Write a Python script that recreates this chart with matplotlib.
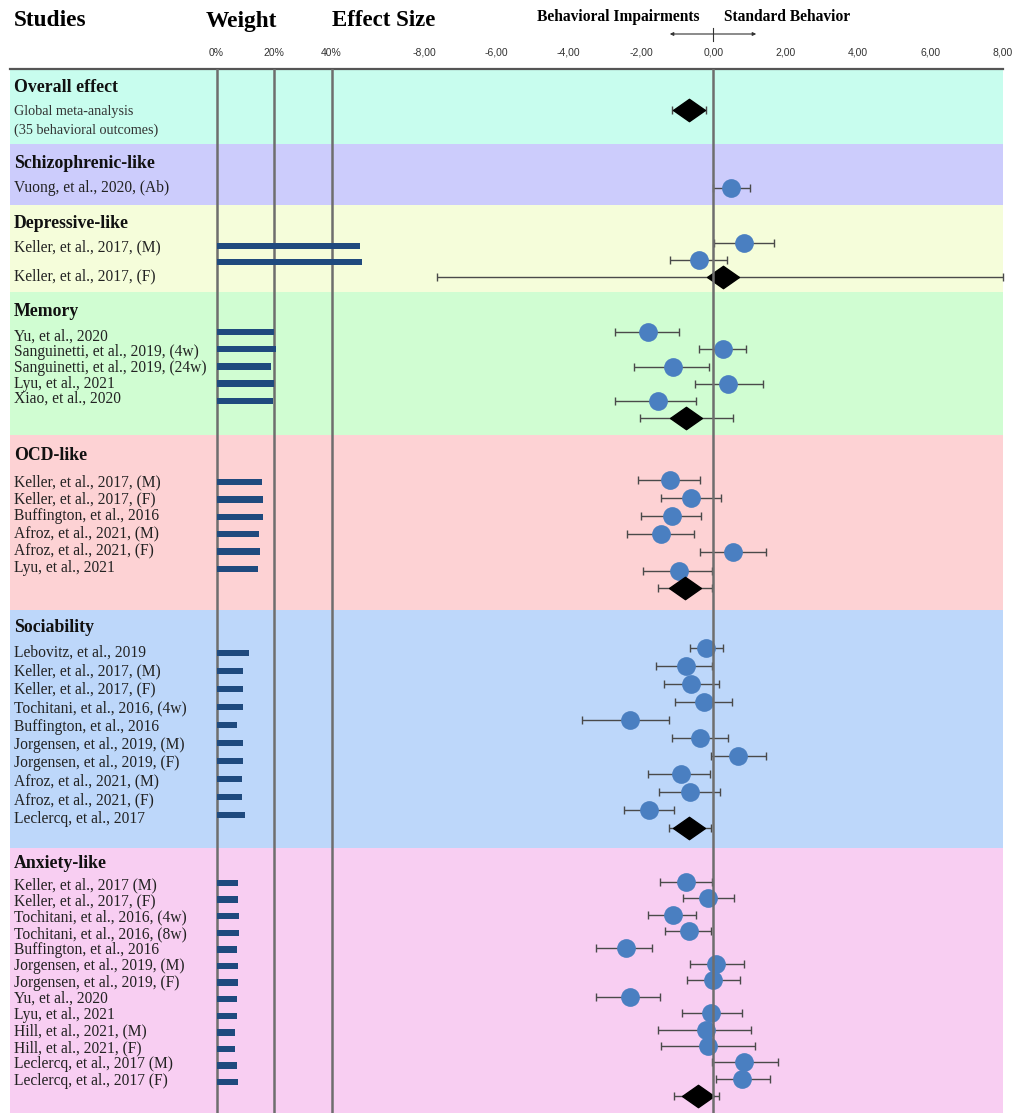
import numpy as np
import matplotlib
matplotlib.use("Agg")
import matplotlib.pyplot as plt
from matplotlib.path import Path
from matplotlib.patches import FancyArrowPatch
from matplotlib.lines import Line2D

# ---------------------------------------------------------------- data
sections = ["Overall effect", "Schizophrenic-like", "Depressive-like", "Memory",
            "OCD-like", "Sociability", "Anxiety-like"]

schizo_studies = ["Vuong, et al., 2020, (Ab)"]
schizo_weight = [np.nan]
schizo_es = [0.47]
schizo_lo = [0.00]
schizo_hi = [1.00]

depr_studies = ["Keller, et al., 2017, (M)", "Keller, et al., 2017, (F)"]
depr_weight = [50.0, 50.7]
depr_es = [0.83, -0.41]
depr_lo = [0.02, -1.19]
depr_hi = [1.66, 0.36]

mem_studies = ["Yu, et al., 2020", "Sanguinetti, et al., 2019, (4w)",
               "Sanguinetti, et al., 2019, (24w)", "Lyu, et al., 2021", "Xiao, et al., 2020"]
mem_weight = [20.0, 20.8, 19.0, 20.0, 19.5]
mem_es = [-1.80, 0.25, -1.13, 0.41, -1.54]
mem_lo = [-2.71, -0.41, -2.21, -0.50, -2.71]
mem_hi = [-0.96, 0.91, -0.13, 1.36, -0.47]

ocd_studies = ["Keller, et al., 2017, (M)", "Keller, et al., 2017, (F)",
               "Buffington, et al., 2016", "Afroz, et al., 2021, (M)",
               "Afroz, et al., 2021, (F)", "Lyu, et al., 2021"]
ocd_weight = [15.7, 16.3, 16.3, 14.7, 15.3, 14.5]
ocd_es = [-1.21, -0.61, -1.14, -1.45, 0.53, -0.94]
ocd_lo = [-2.10, -1.45, -2.00, -2.40, -0.36, -1.94]
ocd_hi = [-0.38, 0.22, -0.34, -0.55, 1.46, -0.03]

soc_studies = ["Lebovitz, et al., 2019", "Keller, et al., 2017, (M)",
               "Keller, et al., 2017, (F)", "Tochitani, et al., 2016, (4w)",
               "Buffington, et al., 2016", "Jorgensen, et al., 2019, (M)",
               "Jorgensen, et al., 2019, (F)", "Afroz, et al., 2021, (M)",
               "Afroz, et al., 2021, (F)", "Leclercq, et al., 2017"]
soc_weight = [11.2, 9.3, 9.3, 9.3, 7.0, 9.3, 9.3, 8.7, 8.7, 9.9]
soc_es = [-0.22, -0.77, -0.61, -0.26, -2.31, -0.36, 0.67, -0.91, -0.64, -1.77]
soc_lo = [-0.66, -1.60, -1.38, -1.06, -3.63, -1.14, -0.07, -1.81, -1.50, -2.46]
soc_hi = [0.25, -0.03, 0.14, 0.52, -1.22, 0.41, 1.46, -0.11, 0.19, -1.10]

anx_studies = ["Keller, et al., 2017 (M)", "Keller, et al., 2017, (F)",
               "Tochitani, et al., 2016, (4w)", "Tochitani, et al., 2016, (8w)",
               "Buffington, et al., 2016", "Jorgensen, et al., 2019, (M)",
               "Jorgensen, et al., 2019, (F)", "Yu, et al., 2020", "Lyu, et al., 2021",
               "Hill, et al., 2021, (M)", "Hill, et al., 2021, (F)",
               "Leclercq, et al., 2017 (M)", "Leclercq, et al., 2017 (F)"]
anx_weight = [7.5, 7.5, 7.9, 7.9, 7.3, 7.5, 7.5, 7.3, 7.3, 6.3, 6.3, 7.0, 7.5]
anx_es = [-0.75, -0.14, -1.11, -0.69, -2.43, 0.08, 0.00, -2.32, -0.06,
          -0.20, -0.14, 0.83, 0.80]
anx_lo = [-1.49, -0.83, -1.81, -1.35, -3.26, -0.64, -0.72, -3.24, -0.88,
          -1.53, -1.45, -0.03, 0.06]
anx_hi = [-0.03, 0.58, -0.47, -0.06, -1.69, 0.83, 0.72, -1.49, 0.79,
          1.05, 1.16, 1.77, 1.55]

# pooled estimates (effect, lower, upper); None where no pooled estimate
pooled_es = [-0.69, None, 0.25, -0.75, -0.80, -0.69, -0.44]
pooled_lo = [-1.16, None, -7.63, -2.02, -1.54, -1.24, -1.10]
pooled_hi = [-0.22, None, 8.00, 0.55, -0.03, -0.08, 0.14]

effect_ticks = [-8, -6, -4, -2, 0, 2, 4, 6, 8]
weight_ticks = [0, 20, 40]

# ---------------------------------------------------------------- layout
W, H = 1017, 1113
BAND_COLORS = ["#c8fdee", "#ccccfc", "#f5fdda", "#d0fdd2", "#fdd2d4", "#bdd7fa", "#f8cef2"]
# per section: band top/bottom, title y, (label y0, dy), (bar y0, dy), (point y0, dy), pooled y
LAYOUT = [
    dict(band=(69, 144), title=88, labels=None, bars=None, points=None, pooled=110),
    dict(band=(144, 205), title=164, labels=(188, 0), bars=(188, 0), points=(188, 0), pooled=None),
    dict(band=(205, 292), title=224, labels=(247, 29), bars=(246, 16), points=(243, 17), pooled=277),
    dict(band=(292, 435), title=311, labels=(337, 15.5), bars=(332, 17.2), points=(332, 17.3), pooled=418),
    dict(band=(435, 610), title=455, labels=(482, 17.2), bars=(482, 17.4), points=(480, 18.1), pooled=588),
    dict(band=(610, 848), title=627, labels=(653, 18.4), bars=(653, 18.0), points=(648, 18.0), pooled=828),
    dict(band=(848, 1113), title=863, labels=(885, 16.3), bars=(883, 16.6), points=(882, 16.4), pooled=1096),
]
groups = [None,
          (schizo_studies, schizo_weight, schizo_es, schizo_lo, schizo_hi),
          (depr_studies, depr_weight, depr_es, depr_lo, depr_hi),
          (mem_studies, mem_weight, mem_es, mem_lo, mem_hi),
          (ocd_studies, ocd_weight, ocd_es, ocd_lo, ocd_hi),
          (soc_studies, soc_weight, soc_es, soc_lo, soc_hi),
          (anx_studies, anx_weight, anx_es, anx_lo, anx_hi)]

SERIF = ["Liberation Serif", "DejaVu Serif"]
SANS = ["Liberation Sans", "DejaVu Sans"]
BAR_COLOR = "#1f4a7e"
DOT_COLOR = "#4a7fc1"
CI_COLOR = "#4a4a4a"
GRID_COLOR = "#6e6e6e"


def fx(px):
    return px / W


def fy(py):
    return 1 - py / H


fig = plt.figure(figsize=(W / 100, H / 100), dpi=100)

PANEL_L, PANEL_R, PANEL_T, PANEL_B = 10, 1003, 69, 1113
ax = fig.add_axes([fx(PANEL_L), fy(PANEL_B), (PANEL_R - PANEL_L) / W, (PANEL_B - PANEL_T) / H])
ax.set_ylim(PANEL_B, PANEL_T)

# effect-size scale: -8 .. 8 on the right part of the panel
E_ZERO, E_PX = 713.5, (1003 - 424) / 16.0
ax.set_xlim((PANEL_L - E_ZERO) / E_PX, (PANEL_R - E_ZERO) / E_PX)

# weight scale shares the rows
axw = ax.twiny()
W_ZERO, W_PX = 216.5, 2.875
axw.set_xlim((PANEL_L - W_ZERO) / W_PX, (PANEL_R - W_ZERO) / W_PX)
axw.set_ylim(PANEL_B, PANEL_T)

for a in (ax, axw):
    for s in a.spines.values():
        s.set_visible(False)
    a.set_yticks([])
ax.spines["top"].set_visible(True)
ax.spines["top"].set_color("#555555")
ax.spines["top"].set_linewidth(1.6)

ax.xaxis.tick_top()
ax.set_xticks(effect_ticks)
ax.set_xticklabels([f"{v:.2f}".replace(".", ",") for v in effect_ticks])
axw.set_xticks(weight_ticks)
axw.set_xticklabels([f"{v}%" for v in weight_ticks])
for a in (ax, axw):
    a.tick_params(axis="x", length=0, pad=8, labelsize=7.5, labelcolor="#333333")
    for lab in a.get_xticklabels():
        lab.set_family(SANS)

# bands
for lay, col in zip(LAYOUT, BAND_COLORS):
    ax.axhspan(lay["band"][0], lay["band"][1], color=col, lw=0, zorder=0)

# reference lines
for v in weight_ticks:
    axw.axvline(v, color=GRID_COLOR, lw=1.8, zorder=1)
ax.axvline(0, color=GRID_COLOR, lw=1.8, zorder=6)

diamond = Path([(-1, 0), (0, 0.7), (1, 0), (0, -0.7), (-1, 0)],
               [Path.MOVETO, Path.LINETO, Path.LINETO, Path.LINETO, Path.CLOSEPOLY])

for i, (name, lay, grp) in enumerate(zip(sections, LAYOUT, groups)):
    fig.text(fx(14), fy(lay["title"]), name, family=SERIF, fontsize=12.8,
             fontweight="bold", va="center", ha="left", color="#111111")
    if grp is not None:
        studies, wts, es, lo, hi = grp
        n = len(studies)
        ly0, ldy = lay["labels"]
        by0, bdy = lay["bars"]
        py0, pdy = lay["points"]
        ly = ly0 + ldy * np.arange(n)
        by = by0 + bdy * np.arange(n)
        py = py0 + pdy * np.arange(n)
        for s, yy in zip(studies, ly):
            fig.text(fx(14), fy(yy), s, family=SERIF, fontsize=11.2, va="center",
                     ha="left", color="#222222")
        wts = np.asarray(wts, float)
        ok = ~np.isnan(wts)
        if ok.any():
            axw.barh(by[ok], wts[ok], height=6.5, left=0, color=BAR_COLOR, zorder=2)
        es = np.asarray(es)
        err = [es - np.asarray(lo), np.asarray(hi) - es]
        ax.errorbar(es, py, xerr=err, fmt="none", ecolor=CI_COLOR, elinewidth=1.0,
                    capsize=3, capthick=1.0, zorder=3)
        ax.plot(es, py, ls="none", marker="o", ms=13.5, color=DOT_COLOR, mec="none", zorder=4)
    if pooled_es[i] is not None:
        e, l, h = pooled_es[i], pooled_lo[i], pooled_hi[i]
        yp = lay["pooled"]
        ax.errorbar([e], [yp], xerr=[[e - l], [h - e]], fmt="none", ecolor=CI_COLOR,
                    elinewidth=1.0, capsize=3, capthick=1.0, zorder=3, clip_on=False)
        ax.plot([e], [yp], ls="none", marker=diamond, ms=23, color="black", zorder=4)

# overall description lines
fig.text(fx(14), fy(112), "Global meta-analysis", family=SERIF, fontsize=10.2,
         va="center", color="#333333")
fig.text(fx(14), fy(130), "(35 behavioral outcomes)", family=SERIF, fontsize=10.2,
         va="center", color="#333333")

# column headings
fig.text(fx(14), fy(21), "Studies", family=SERIF, fontsize=16.8, fontweight="bold", va="center")
fig.text(fx(241), fy(21), "Weight", family=SERIF, fontsize=16.8, fontweight="bold",
         va="center", ha="center")
fig.text(fx(332), fy(21), "Effect Size", family=SERIF, fontsize=16.5, fontweight="bold",
         va="center")
fig.text(fx(618), fy(17), "Behavioral Impairments", family=SERIF, fontsize=11.2,
         fontweight="bold", va="center", ha="center")
fig.text(fx(787), fy(17), "Standard Behavior", family=SERIF, fontsize=11.2,
         fontweight="bold", va="center", ha="center")
fig.add_artist(FancyArrowPatch((fx(667), fy(34)), (fx(759), fy(34)),
                               transform=fig.transFigure, arrowstyle="<|-|>",
                               mutation_scale=5, lw=0.8, color="#333333"))
fig.add_artist(Line2D([fx(713)] * 2, [fy(28), fy(41)], transform=fig.transFigure,
                      color="#333333", lw=0.8))

fig.savefig("out.png", dpi=100)
